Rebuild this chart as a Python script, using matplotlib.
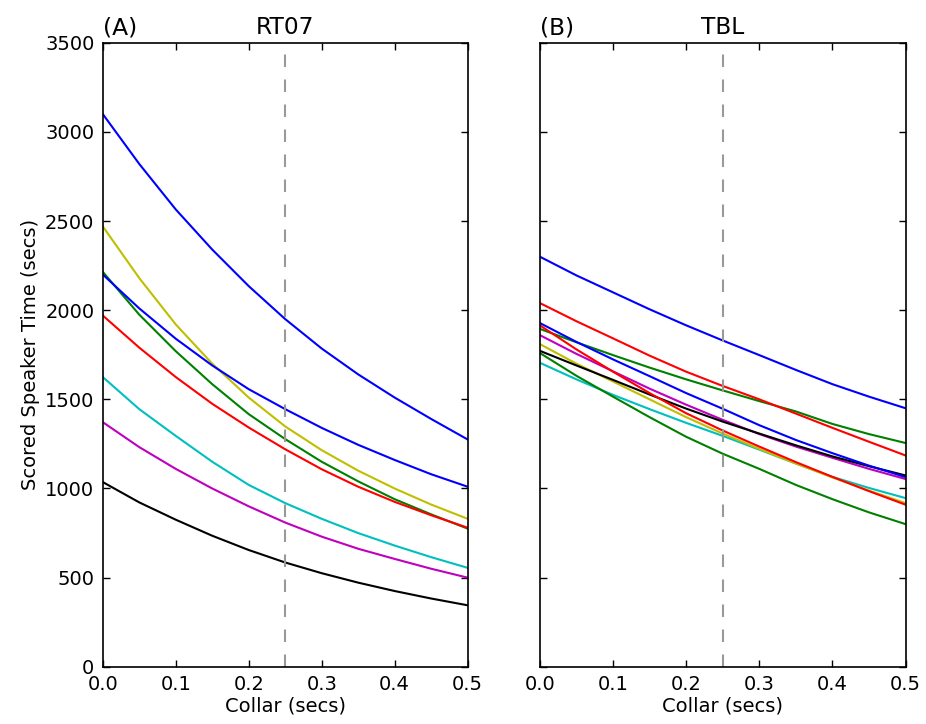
import matplotlib
matplotlib.use("Agg")
import matplotlib.pyplot as plt

collar = [0.0, 0.05, 0.1, 0.15, 0.2, 0.25, 0.3, 0.35, 0.4, 0.45, 0.5]

# RT07 systems (scored speaker time, secs), classic colour cycle order
rt07_series = [
    ("b", [3100, 2820, 2565, 2340, 2135, 1950, 1785, 1640, 1510, 1390, 1275]),
    ("g", [2215, 1975, 1770, 1585, 1417, 1277, 1150, 1040, 940, 855, 775]),
    ("r", [1970, 1790, 1625, 1475, 1342, 1220, 1108, 1010, 925, 850, 780]),
    ("c", [1625, 1445, 1295, 1150, 1020, 918, 830, 750, 680, 615, 555]),
    ("m", [1372, 1232, 1110, 1000, 900, 809, 730, 662, 605, 550, 500]),
    ("y", [2470, 2180, 1920, 1700, 1510, 1348, 1215, 1100, 1000, 910, 830]),
    ("k", [1036, 922, 825, 735, 655, 585, 525, 472, 425, 383, 345]),
    ("b", [2200, 2010, 1840, 1690, 1557, 1445, 1340, 1245, 1160, 1080, 1010]),
]

# TBL systems
tbl_series = [
    ("b", [2300, 2195, 2100, 2005, 1915, 1830, 1748, 1665, 1585, 1515, 1450]),
    ("g", [1895, 1820, 1748, 1678, 1612, 1550, 1490, 1432, 1362, 1305, 1255]),
    ("r", [2040, 1938, 1842, 1745, 1655, 1575, 1500, 1420, 1340, 1262, 1185]),
    ("c", [1705, 1612, 1525, 1445, 1368, 1295, 1218, 1140, 1065, 1003, 946]),
    ("m", [1860, 1755, 1657, 1560, 1470, 1385, 1305, 1235, 1172, 1110, 1053]),
    ("y", [1810, 1700, 1600, 1500, 1400, 1308, 1222, 1140, 1062, 988, 918]),
    ("k", [1772, 1690, 1609, 1527, 1448, 1375, 1308, 1242, 1180, 1125, 1073]),
    ("b", [1928, 1822, 1724, 1630, 1535, 1447, 1355, 1272, 1198, 1128, 1064]),
    ("g", [1760, 1632, 1515, 1400, 1290, 1195, 1110, 1020, 940, 866, 800]),
    ("r", [1915, 1780, 1655, 1535, 1422, 1325, 1235, 1148, 1065, 985, 909]),
]

panels = [("(A)", "RT07", rt07_series), ("(B)", "TBL", tbl_series)]
collar_mark = 0.25
y_ticks = list(range(0, 3501, 500))
x_ticks = [0.0, 0.1, 0.2, 0.3, 0.4, 0.5]

plt.rcParams["font.family"] = ["DejaVu Sans"]
plt.rcParams["font.size"] = 14

fig = plt.figure(figsize=(9.26, 7.24), dpi=100)
positions = [[0.111, 0.079, 0.394, 0.862], [0.583, 0.079, 0.395, 0.862]]

for i, (tag, name, series) in enumerate(panels):
    ax = fig.add_axes(positions[i])
    for color, values in series:
        ax.plot(collar, values, color=color, linewidth=1.5)
    ax.axvline(collar_mark, color="#999999", linestyle="--", linewidth=1.5, dashes=(6, 6))
    ax.set_xlim(0, 0.5)
    ax.set_ylim(0, 3500)
    ax.set_xticks(x_ticks)
    ax.set_xticklabels([f"{t:.1f}" for t in x_ticks])
    ax.set_yticks(y_ticks)
    ax.tick_params(direction="in", top=True, right=True, length=5, width=1, labelsize=14, pad=6)
    for spine in ax.spines.values():
        spine.set_linewidth(1.2)
    ax.set_title(name, fontsize=16.8, pad=6)
    ax.set_title(tag, fontsize=16.8, loc="left", pad=6)
    ax.set_xlabel("Collar (secs)", fontsize=14, labelpad=2)
    if i == 0:
        ax.set_ylabel("Scored Speaker Time (secs)", fontsize=14, labelpad=4)
    else:
        ax.set_yticklabels([])

fig.savefig("out.png", dpi=100, facecolor="white")
